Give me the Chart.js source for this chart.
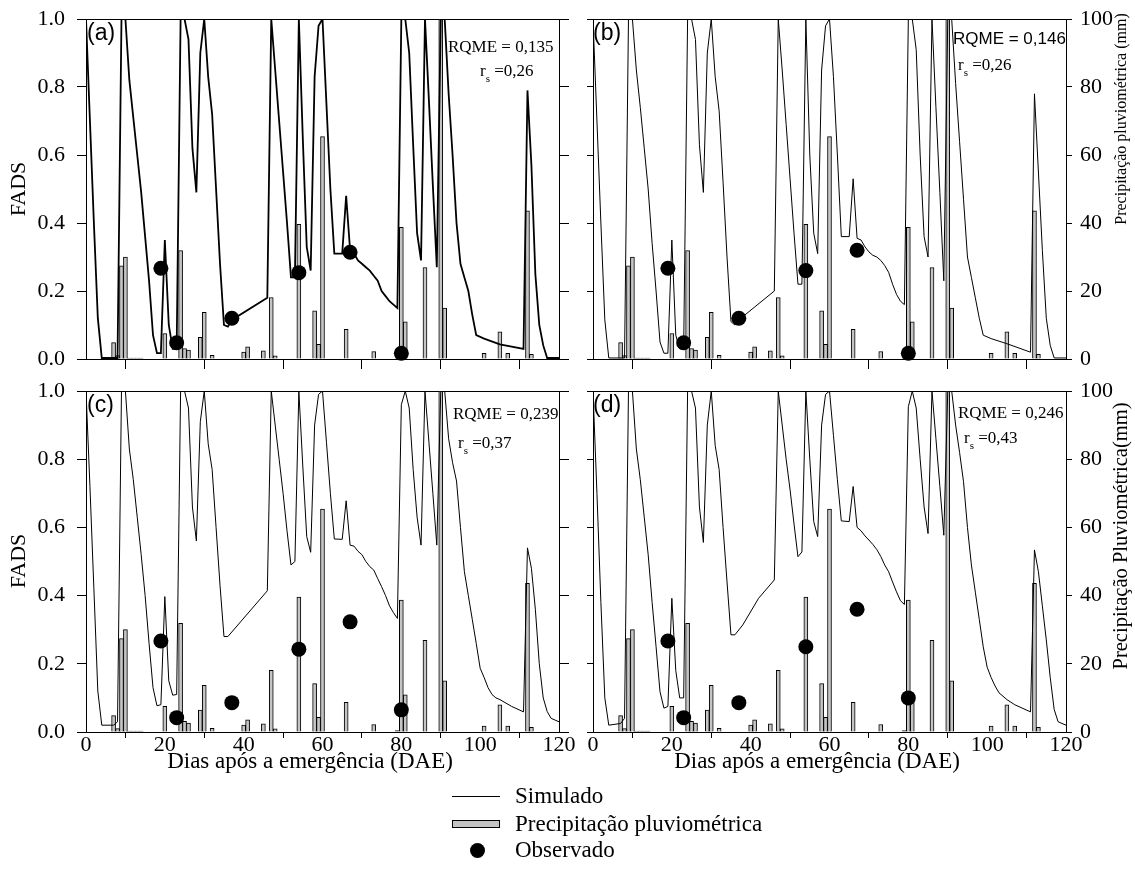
<!DOCTYPE html>
<html><head><meta charset="utf-8">
<script src="https://cdn.jsdelivr.net/npm/chart.js@4.4.0/dist/chart.umd.min.js"></script>
<style>
html,body{margin:0;padding:0;background:#fff;}
#wrap{position:relative;width:1135px;height:889px;overflow:hidden;background:#fff;}
canvas{position:absolute;}
.lt{position:absolute;font-family:"Liberation Serif",serif;font-size:23px;line-height:23px;color:#000;white-space:nowrap;}
</style></head><body>
<div id="wrap">
<canvas id="ca" width="576" height="372" style="left:0;top:0"></canvas>
<canvas id="cb" width="559" height="372" style="left:576px;top:0"></canvas>
<canvas id="cc" width="576" height="420" style="left:0;top:372px"></canvas>
<canvas id="cd" width="559" height="420" style="left:576px;top:372px"></canvas>
<div style="position:absolute;left:452px;top:796px;width:48px;height:0;border-top:1px solid #000"></div>
<div class="lt" style="left:515px;top:784px">Simulado</div>
<div style="position:absolute;left:452px;top:820px;width:48px;height:8px;box-sizing:border-box;background:#c4c4c4;border:1px solid #000"></div>
<div class="lt" style="left:515px;top:812px">Precipitação pluviométrica</div>
<div style="position:absolute;left:469.5px;top:842.5px;width:15px;height:15px;border-radius:50%;background:#000"></div>
<div class="lt" style="left:515px;top:838px">Observado</div>
</div>
<script>
// ---- tick labels ----
const xTicks = [0, 20, 40, 60, 80, 100, 120];
const fadsTicks = [0, 0.2, 0.4, 0.6, 0.8, 1.0];
const rainTicks = [0, 20, 40, 60, 80, 100];

// ---- precipitation (mm), same in all panels ----
const rainDays = [7,8,9,10,11,12,13,14,20,24,25,26,29,30,32,40,41,45,47,48,54,58,59,60,66,73,79,80,81,86,90,91,101,105,107,112,113];
const rainMm   = [4.8,1.0,27.4,30.0,0.3,0.3,0.3,0.3,7.5,31.9,3.1,2.6,6.4,13.7,1.1,2.0,3.6,2.4,18.1,0.9,39.6,14.2,4.3,65.4,8.7,2.2,0.4,38.7,10.9,26.9,100,15.0,1.7,8.0,1.7,43.6,1.4];

// ---- observed FADS ----
const obsDays = [19, 23, 37, 54, 67, 80];
const obsA = [0.267, 0.048, 0.12, 0.254, 0.314, 0.017];
const obsB = [0.267, 0.048, 0.12, 0.26, 0.32, 0.017];
const obsC = [0.267, 0.042, 0.086, 0.243, 0.323, 0.065];
const obsD = [0.267, 0.042, 0.086, 0.25, 0.36, 0.10];

// ---- simulated FADS [day, value] ----
const simA = [[0,1.0],[1,0.7],[2,0.4],[3,0.12],[4,0.003],[8,0.003],[9,1.0],[10,1.0],[11,0.82],[12,0.71],[13,0.6],[14,0.49],[15,0.36],[16,0.23],[17,0.07],[18,0.017],[19,0.017],[20,0.35],[21,0.1],[22,0.03],[23,0.03],[24,1.0],[25,1.0],[26,0.94],[27,0.62],[28,0.49],[29,0.9],[30,1.0],[31,0.83],[32,0.72],[33,0.5],[34,0.28],[35,0.1],[36,0.095],[37,0.115],[46,0.18],[47,1.0],[48,0.85],[49,0.7],[50,0.55],[51,0.4],[52,0.24],[53,0.24],[54,1.0],[55,0.65],[56,0.33],[57,0.26],[58,0.83],[59,0.98],[60,1.0],[61,0.75],[62,0.5],[63,0.31],[65,0.31],[66,0.48],[67,0.32],[68,0.31],[69,0.29],[70,0.28],[71,0.27],[72,0.26],[73,0.245],[74,0.23],[75,0.2],[76,0.185],[77,0.17],[78,0.16],[79,0.15],[80,1.0],[81,1.0],[82,0.9],[83,0.63],[84,0.37],[85,0.29],[86,1.0],[87,0.76],[88,0.51],[89,0.27],[90,1.0],[91,1.0],[92,0.78],[93,0.6],[94,0.4],[95,0.28],[96,0.24],[97,0.2],[98,0.13],[99,0.07],[101,0.06],[105,0.043],[111,0.03],[112,0.79],[113,0.57],[114,0.25],[115,0.1],[116,0.04],[117,0.003],[120,0.003]];
const simB = [[0,1.0],[1,0.7],[2,0.4],[3,0.115],[4,0.003],[8,0.003],[9,1.0],[10,1.0],[11,0.85],[12,0.74],[13,0.62],[14,0.5],[15,0.34],[16,0.2],[17,0.05],[18,0.017],[19,0.017],[20,0.35],[21,0.07],[22,0.03],[23,0.03],[24,1.0],[25,1.0],[26,0.94],[27,0.63],[28,0.49],[29,0.9],[30,1.0],[31,0.83],[32,0.73],[33,0.52],[34,0.3],[35,0.11],[36,0.1],[37,0.115],[46,0.2],[47,1.0],[48,0.85],[49,0.69],[50,0.53],[51,0.37],[52,0.22],[53,0.22],[54,1.0],[55,0.6],[56,0.37],[57,0.31],[58,0.85],[59,0.98],[60,1.0],[61,0.83],[62,0.6],[63,0.36],[65,0.36],[66,0.53],[67,0.355],[68,0.35],[69,0.33],[70,0.315],[71,0.305],[72,0.3],[73,0.29],[74,0.275],[75,0.255],[76,0.22],[77,0.19],[78,0.17],[79,0.16],[80,1.0],[81,1.0],[82,0.91],[83,0.6],[84,0.36],[85,0.3],[86,1.0],[87,0.74],[88,0.49],[89,0.23],[90,1.0],[91,1.0],[92,0.81],[93,0.64],[94,0.47],[95,0.3],[96,0.24],[97,0.18],[98,0.12],[99,0.07],[101,0.06],[105,0.045],[111,0.02],[112,0.78],[113,0.55],[114,0.32],[115,0.12],[116,0.04],[117,0.003],[120,0.003]];
const simC = [[0,1.0],[1,0.72],[2,0.42],[3,0.12],[4,0.02],[7,0.02],[8,0.03],[9,1.0],[10,1.0],[11,0.83],[12,0.74],[13,0.63],[14,0.52],[15,0.4],[16,0.26],[17,0.13],[18,0.077],[19,0.08],[20,0.397],[21,0.15],[22,0.108],[23,0.11],[24,1.0],[25,1.0],[26,0.95],[27,0.66],[28,0.56],[29,0.91],[30,1.0],[31,0.845],[32,0.77],[33,0.6],[34,0.43],[35,0.28],[36,0.28],[46,0.414],[47,1.0],[48,0.9],[49,0.8],[50,0.7],[51,0.59],[52,0.49],[53,0.5],[54,1.0],[55,0.78],[56,0.573],[57,0.527],[58,0.9],[59,0.99],[60,1.0],[61,0.85],[62,0.7],[63,0.566],[65,0.565],[66,0.678],[67,0.548],[68,0.545],[69,0.53],[70,0.52],[71,0.5],[72,0.485],[73,0.475],[74,0.45],[75,0.426],[76,0.4],[77,0.37],[78,0.35],[79,0.333],[80,0.96],[81,1.0],[82,0.95],[83,0.77],[84,0.63],[85,0.548],[86,1.0],[87,0.85],[88,0.7],[89,0.548],[90,1.0],[91,1.0],[92,0.86],[93,0.79],[94,0.736],[95,0.6],[96,0.47],[97,0.4],[98,0.33],[99,0.26],[100,0.187],[101,0.16],[102,0.13],[103,0.11],[104,0.1],[105,0.095],[108,0.075],[111,0.059],[112,0.54],[113,0.48],[114,0.36],[115,0.2],[116,0.1],[117,0.06],[118,0.04],[120,0.03]];
const simD = [[0,1.0],[1,0.7],[2,0.38],[3,0.1],[4,0.02],[7,0.025],[8,0.04],[9,1.0],[10,1.0],[11,0.83],[12,0.74],[13,0.63],[14,0.52],[15,0.38],[16,0.25],[17,0.118],[18,0.07],[19,0.075],[20,0.392],[21,0.18],[22,0.1],[23,0.1],[24,1.0],[25,1.0],[26,0.95],[27,0.66],[28,0.556],[29,0.9],[30,1.0],[31,0.84],[32,0.77],[33,0.6],[34,0.44],[35,0.285],[36,0.285],[38,0.314],[42,0.392],[46,0.446],[47,1.0],[48,0.9],[49,0.8],[50,0.71],[51,0.61],[52,0.514],[53,0.528],[54,1.0],[55,0.8],[56,0.617],[57,0.573],[58,0.9],[59,0.99],[60,1.0],[61,0.87],[62,0.74],[63,0.619],[65,0.617],[66,0.72],[67,0.6],[68,0.59],[69,0.575],[70,0.563],[71,0.55],[72,0.535],[73,0.515],[74,0.49],[75,0.47],[76,0.44],[77,0.411],[78,0.385],[79,0.374],[80,0.954],[81,1.0],[82,0.95],[83,0.8],[84,0.66],[85,0.582],[86,1.0],[87,0.86],[88,0.72],[89,0.577],[90,1.0],[91,1.0],[92,0.9],[93,0.82],[94,0.734],[95,0.6],[96,0.49],[97,0.41],[98,0.33],[99,0.25],[100,0.19],[101,0.16],[102,0.135],[103,0.115],[105,0.095],[107,0.08],[111,0.059],[112,0.534],[113,0.47],[114,0.37],[115,0.27],[116,0.16],[117,0.066],[118,0.03],[120,0.02]];

Chart.defaults.font.family = '"Liberation Serif", "Times New Roman", serif';
Chart.defaults.color = '#000';

const SERIF = '"Liberation Serif", serif';
const SANS = '"Liberation Sans", Arial, sans-serif';

function drawTexts(ctx, items, ox, oy) {
  ctx.save();
  ctx.fillStyle = '#000';
  ctx.textBaseline = 'middle';
  for (const it of items) {
    const x = it.x - ox, y = it.y - oy;
    ctx.font = it.font;
    if (it.rot) {
      ctx.save(); ctx.translate(x, y); ctx.rotate(it.rot);
      ctx.textAlign = 'center'; ctx.fillText(it.text, 0, 0); ctx.restore();
    } else if (it.rs) {
      ctx.textAlign = 'left';
      ctx.fillText('r', x, y);
      const w = ctx.measureText('r').width;
      ctx.font = it.subFont;
      ctx.fillText('s', x + w, y + 7);
      const w2 = ctx.measureText('s').width;
      ctx.font = it.font;
      ctx.fillText(it.text, x + w + w2, y);
    } else {
      ctx.textAlign = it.align || 'left';
      ctx.fillText(it.text, x, y);
    }
  }
  ctx.restore();
}

function noPad(s) { s.paddingTop = 0; s.paddingBottom = 0; s.paddingLeft = 0; s.paddingRight = 0; }

function makePanel(id, o) {
  const plugin = { id: 'annot_' + id, afterDraw(chart) { drawTexts(chart.ctx, o.texts, o.ox, o.oy); } };
  return new Chart(document.getElementById(id), {
    type: 'line',
    data: { datasets: [
      { type: 'line', label: 'Simulado', data: o.sim.map(p => ({ x: p[0], y: p[1] })),
        borderColor: '#000', borderWidth: o.lw, pointRadius: 0, tension: 0, fill: false, yAxisID: 'y', order: 2 },
      { type: 'scatter', label: 'Observado', data: obsDays.map((d, i) => ({ x: d, y: o.obs[i] })),
        backgroundColor: '#000', borderColor: '#000', borderWidth: 0, pointRadius: 7.5, yAxisID: 'y', order: 1, clip: false },
      { type: 'bar', label: 'Precipitação pluviométrica', data: rainDays.map((d, i) => ({ x: d, y: rainMm[i] })),
        backgroundColor: '#c4c4c4', borderColor: '#000', borderWidth: 1, barThickness: 4, yAxisID: 'y2', order: 3 }
    ]},
    options: {
      responsive: false, animation: false, events: [],
      layout: { padding: 0, autoPadding: false },
      plugins: { legend: { display: false }, tooltip: { enabled: false } },
      scales: {
        x: { type: 'linear', position: 'bottom', min: 0, max: 120, offset: false,
             afterBuildTicks: s => { s.ticks = xTicks.map(v => ({ value: v })); },
             ticks: { autoSkip: false, maxRotation: 0, padding: -4, color: '#000', font: { size: 22, lineHeight: 1 },
                      callback: v => o.xLabels ? String(v) : '' },
             grid: { drawOnChartArea: false, drawTicks: true, tickLength: o.xTick, color: '#000' },
             border: { display: true, color: '#000', width: 1 },
             afterFit: s => { s.height = o.bottomH; noPad(s); } },
        xt: { type: 'linear', position: 'top', min: 0, max: 120, display: true,
              ticks: { display: false }, grid: { drawOnChartArea: false, drawTicks: false },
              border: { display: true, color: '#000', width: 1 },
              afterFit: s => { s.height = o.topH; noPad(s); } },
        y: { type: 'linear', position: 'left', min: 0, max: 1,
             afterBuildTicks: s => { s.ticks = fadsTicks.map(v => ({ value: v })); },
             ticks: { autoSkip: false, padding: 12, color: '#000', font: { size: 22, lineHeight: 1 },
                      callback: v => o.leftLabels ? Number(v).toFixed(1) : '' },
             grid: { drawOnChartArea: false, drawTicks: true, tickLength: o.leftTick, color: '#000' },
             border: { display: true, color: '#000', width: 1 },
             afterFit: s => { s.width = o.leftW; noPad(s); } },
        y2: { type: 'linear', position: 'right', min: 0, max: 100,
              afterBuildTicks: s => { s.ticks = rainTicks.map(v => ({ value: v })); },
              ticks: { autoSkip: false, padding: 8, color: '#000', font: { size: 22, lineHeight: 1 },
                       callback: v => o.rightLabels ? String(v) : '' },
              grid: { drawOnChartArea: false, drawTicks: true, tickLength: o.rightTick, color: '#000' },
              border: { display: true, color: '#000', width: 1 },
              afterFit: s => { s.width = o.rightW; noPad(s); } }
      }
    },
    plugins: [plugin]
  });
}

const R = -Math.PI / 2;
makePanel('ca', { sim: simA, obs: obsA, lw: 1.8, ox: 0, oy: 0,
  leftLabels: true, rightLabels: false, xLabels: false,
  leftW: 86, rightW: 17, topH: 19, bottomH: 13, xTick: 10, leftTick: 9, rightTick: 10,
  texts: [
    { text: '(a)', x: 87, y: 34, font: '23px ' + SANS },
    { text: 'RQME = 0,135', x: 448, y: 48, font: '17px ' + SERIF },
    { rs: true, text: ' =0,26', x: 480, y: 72, font: '17px ' + SERIF, subFont: '11px ' + SERIF },
    { text: 'FADS', x: 19, y: 189, rot: R, font: '22px ' + SERIF }
  ]});
makePanel('cb', { sim: simB, obs: obsB, lw: 1, ox: 576, oy: 0,
  leftLabels: false, rightLabels: true, xLabels: false,
  leftW: 17, rightW: 69, topH: 19, bottomH: 13, xTick: 10, leftTick: 6, rightTick: 6,
  texts: [
    { text: '(b)', x: 593, y: 34, font: '23px ' + SANS },
    { text: 'RQME = 0,146', x: 953, y: 39, font: '17px ' + SANS },
    { rs: true, text: ' =0,26', x: 958, y: 66, font: '17px ' + SERIF, subFont: '11px ' + SERIF },
    { text: 'Precipitação pluviométrica (mm)', x: 1122, y: 119, rot: R, font: '16px ' + SERIF }
  ]});
makePanel('cc', { sim: simC, obs: obsC, lw: 1, ox: 0, oy: 372,
  leftLabels: true, rightLabels: false, xLabels: true,
  leftW: 86, rightW: 17, topH: 19, bottomH: 60, xTick: 6, leftTick: 9, rightTick: 10,
  texts: [
    { text: '(c)', x: 87, y: 406, font: '23px ' + SANS },
    { text: 'RQME = 0,239', x: 453, y: 415, font: '17px ' + SERIF },
    { rs: true, text: ' =0,37', x: 458, y: 444, font: '17px ' + SERIF, subFont: '11px ' + SERIF },
    { text: 'FADS', x: 19, y: 561, rot: R, font: '22px ' + SERIF },
    { text: 'Dias após a emergência (DAE)', x: 310, y: 762, align: 'center', font: '23px ' + SERIF }
  ]});
makePanel('cd', { sim: simD, obs: obsD, lw: 1, ox: 576, oy: 372,
  leftLabels: false, rightLabels: true, xLabels: true,
  leftW: 17, rightW: 69, topH: 19, bottomH: 60, xTick: 6, leftTick: 6, rightTick: 6,
  texts: [
    { text: '(d)', x: 593, y: 406, font: '23px ' + SANS },
    { text: 'RQME = 0,246', x: 958, y: 414, font: '17px ' + SERIF },
    { rs: true, text: ' =0,43', x: 964, y: 439, font: '17px ' + SERIF, subFont: '11px ' + SERIF },
    { text: 'Precipitação Pluviométrica(mm)', x: 1122, y: 536, rot: R, font: '20.5px ' + SERIF },
    { text: 'Dias após a emergência (DAE)', x: 817, y: 762, align: 'center', font: '23px ' + SERIF }
  ]});
</script>
</body></html>
